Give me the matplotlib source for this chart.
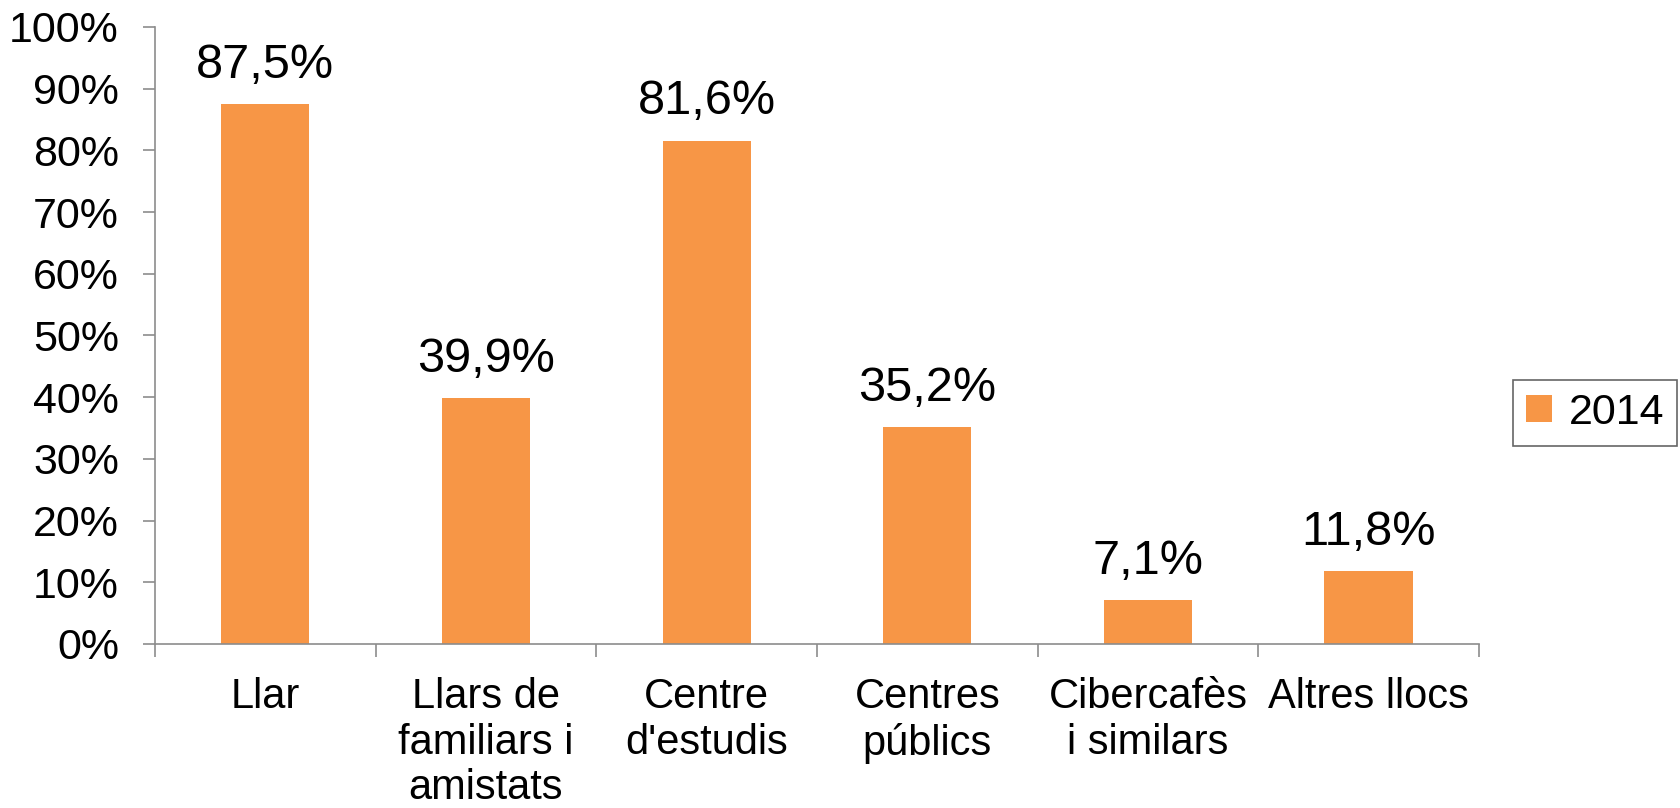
import matplotlib
matplotlib.use("Agg")
import matplotlib.pyplot as plt
from matplotlib.ticker import MultipleLocator, FixedLocator, NullFormatter

plt.rcParams["font.family"] = ["Liberation Sans", "DejaVu Sans"]

categories = ["Llar", "Llars de\nfamiliars i\namistats", "Centre\nd'estudis",
              "Centres\npúblics", "Cibercafès\ni similars", "Altres llocs"]
values = [87.5, 39.9, 81.6, 35.2, 7.1, 11.8]
labels = ["87,5%", "39,9%", "81,6%", "35,2%", "7,1%", "11,8%"]
series = "2014"
bar_color = "#F79646"
axis_color = "#8C8C8C"

fig = plt.figure(figsize=(16.81, 8.08), dpi=100)
ax = fig.add_axes([0.0922, 0.203, 0.7876, 0.7636])

x = list(range(len(categories)))
bars = ax.bar(x, values, width=0.4, color=bar_color, label=series, zorder=2)
for xi, v, lab in zip(x, values, labels):
    ax.text(xi, v + 2.6, lab, ha="center", va="bottom", fontsize=35)

ax.set_xlim(-0.5, len(categories) - 0.5)
ax.set_ylim(0, 100)
ax.yaxis.set_major_locator(MultipleLocator(10))
ax.set_yticklabels([f"{int(t)}%" for t in ax.get_yticks()])
ax.set_xticks(x)
ax.set_xticklabels(categories, fontsize=30, linespacing=1.18)
ax.xaxis.set_minor_locator(FixedLocator([i - 0.5 for i in range(len(categories) + 1)]))
ax.xaxis.set_minor_formatter(NullFormatter())
ax.tick_params(axis="x", which="major", length=0, pad=24)
ax.tick_params(axis="x", which="minor", length=9, width=1.2, color=axis_color, direction="out")
ax.tick_params(axis="y", length=9, width=1.2, color=axis_color, labelsize=31, pad=17)

for s in ["top", "right"]:
    ax.spines[s].set_visible(False)
for s in ["left", "bottom"]:
    ax.spines[s].set_color(axis_color)
    ax.spines[s].set_linewidth(1.2)

leg = fig.legend(handles=[bars], labels=[series], loc="center",
                 bbox_to_anchor=(0.949, 0.489), fontsize=31, frameon=True,
                 fancybox=False, edgecolor="#404040", handlelength=0.6,
                 handleheight=0.6, handletextpad=0.4, borderpad=0.3)
leg.get_frame().set_linewidth(1.2)

fig.savefig("out.png", dpi=100)
